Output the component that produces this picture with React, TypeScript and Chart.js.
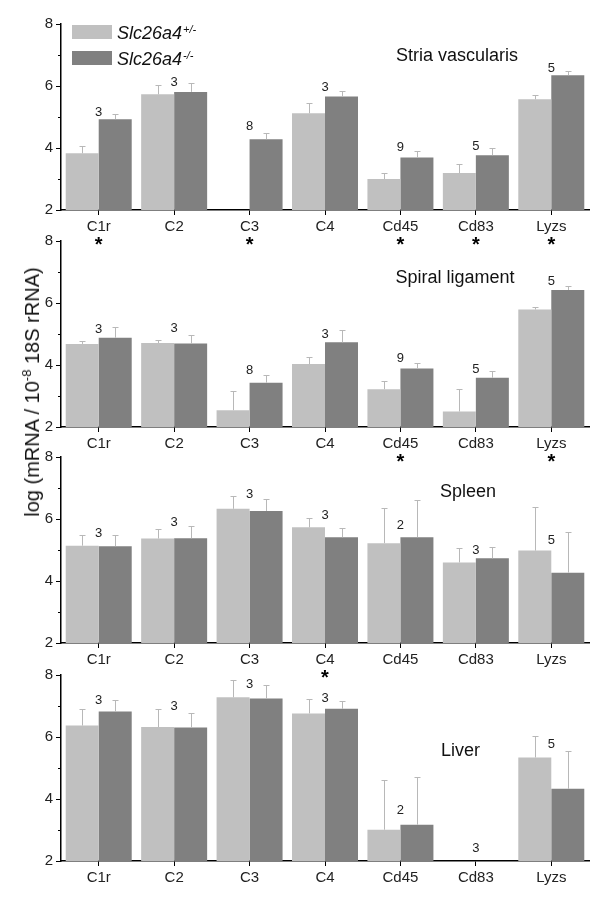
import React, { useEffect, useRef } from 'react';
import { Chart, registerables } from 'chart.js';

Chart.register(...registerables);

// ---------- DATA ----------
const categories = ['C1r', 'C2', 'C3', 'C4', 'Cd45', 'Cd83', 'Lyzs'];
const yMajorTicks = [2, 4, 6, 8];
const yMinorTicks = [3, 5, 7];
const seriesNames = ['Slc26a4', 'Slc26a4'];
const seriesSup = ['+/-', '-/-'];

// Stria vascularis
const striaHet = [3.83, 5.73, null, 5.12, 3.0, 3.19, 5.57];
const striaHetErr = [0.23, 0.29, null, 0.32, 0.2, 0.28, 0.13];
const striaKo = [4.93, 5.81, 4.28, 5.66, 3.69, 3.77, 6.35];
const striaKoErr = [0.16, 0.28, 0.21, 0.18, 0.22, 0.22, 0.13];
const striaN = ['3', '3', '8', '3', '9', '5', '5'];
const striaNAt = [5.16, 6.1, 4.69, 5.94, 4.03, 4.06, 6.58];
const striaSig = [true, false, true, false, true, true, true];

// Spiral ligament
const spiralHet = [4.68, 4.71, 2.54, 4.03, 3.22, 2.5, 5.79];
const spiralHetErr = [0.11, 0.11, 0.62, 0.24, 0.25, 0.74, 0.09];
const spiralKo = [4.88, 4.69, 3.43, 4.73, 3.89, 3.59, 6.42];
const spiralKoErr = [0.34, 0.29, 0.26, 0.39, 0.19, 0.23, 0.14];
const spiralN = ['3', '3', '8', '3', '9', '5', '5'];
const spiralNAt = [5.15, 5.19, 3.83, 4.99, 4.22, 3.87, 6.7];
const spiralSig = [false, false, false, false, true, false, true];

// Spleen
const spleenHet = [5.14, 5.37, 6.33, 5.73, 5.22, 4.6, 4.98];
const spleenHetErr = [0.34, 0.31, 0.4, 0.31, 1.14, 0.47, 1.41];
const spleenKo = [5.12, 5.38, 6.26, 5.41, 5.41, 4.73, 4.27];
const spleenKoErr = [0.36, 0.4, 0.39, 0.3, 1.21, 0.37, 1.32];
const spleenN = ['3', '3', '3', '3', '2', '3', '5'];
const spleenNAt = [5.52, 5.89, 6.79, 6.11, 5.79, 4.98, 5.32];
const spleenSig = [false, false, false, true, false, false, false];

// Liver
const liverHet = [6.37, 6.32, 7.28, 6.76, 3.01, null, 5.34];
const liverHetErr = [0.54, 0.59, 0.56, 0.47, 1.61, null, 0.69];
const liverKo = [6.82, 6.31, 7.24, 6.91, 3.17, null, 4.33];
const liverKoErr = [0.36, 0.47, 0.44, 0.26, 1.55, null, 1.21];
const liverN = ['3', '3', '3', '3', '2', '3', '5'];
const liverNAt = [7.19, 6.99, 7.7, 7.24, 3.63, 2.39, 5.75];
const liverSig = [false, false, false, false, false, false, false];

// ---------- LAYOUT / STYLE ----------
const FONT = "'Liberation Sans', Arial, sans-serif";
const PAD_TOP = 16;
const PLOT_H = 186;
const X_H = 60;
const Y_W = 61;
const PAD_R = 11;
const LIGHT = '#c0c0c0';
const DARK = '#808080';
const ERR = '#b8b8b8';

type PanelCfg = {
  title: string;
  het: (number | null)[];
  hetErr: (number | null)[];
  ko: (number | null)[];
  koErr: (number | null)[];
  n: string[];
  nAt: number[];
  sig: boolean[];
  top: number;
  titleX: number;
  titleY: number;
  legend: boolean;
};

const panels: PanelCfg[] = [
  { title: 'Stria vascularis', het: striaHet, hetErr: striaHetErr, ko: striaKo, koErr: striaKoErr, n: striaN, nAt: striaNAt, sig: striaSig, top: 24, titleX: 457, titleY: 61, legend: true },
  { title: 'Spiral ligament', het: spiralHet, hetErr: spiralHetErr, ko: spiralKo, koErr: spiralKoErr, n: spiralN, nAt: spiralNAt, sig: spiralSig, top: 241, titleX: 455, titleY: 282.5, legend: false },
  { title: 'Spleen', het: spleenHet, hetErr: spleenHetErr, ko: spleenKo, koErr: spleenKoErr, n: spleenN, nAt: spleenNAt, sig: spleenSig, top: 457, titleX: 468, titleY: 497, legend: false },
  { title: 'Liver', het: liverHet, hetErr: liverHetErr, ko: liverKo, koErr: liverKoErr, n: liverN, nAt: liverNAt, sig: liverSig, top: 675, titleX: 460.5, titleY: 755.5, legend: false },
];

function Panel({ cfg }: { cfg: PanelCfg }) {
  const ref = useRef<HTMLCanvasElement>(null);
  const canvasTop = cfg.top - PAD_TOP;
  const height = PAD_TOP + PLOT_H + X_H;

  useEffect(() => {
    if (!ref.current) return;
    const loc = (pageY: number) => pageY - canvasTop;
    const errs = [cfg.hetErr, cfg.koErr];
    const vals = [cfg.het, cfg.ko];

    const overlay = {
      id: 'overlay',
      afterDatasetsDraw(chart: any) {
        const ctx = chart.ctx as CanvasRenderingContext2D;
        const xs = chart.scales.x;
        const ys = chart.scales.y;
        ctx.save();
        // minor y ticks
        ctx.strokeStyle = '#000';
        ctx.lineWidth = 1;
        yMinorTicks.forEach((t) => {
          const py = Math.round(ys.getPixelForValue(t)) + 0.5;
          ctx.beginPath();
          ctx.moveTo(ys.right - 3, py);
          ctx.lineTo(ys.right, py);
          ctx.stroke();
        });
        // error bars
        ctx.strokeStyle = ERR;
        ctx.lineWidth = 1;
        [0, 1].forEach((d) => {
          const meta = chart.getDatasetMeta(d);
          meta.data.forEach((el: any, i: number) => {
            const v = vals[d][i];
            const e = errs[d][i];
            if (v == null || e == null) return;
            const x = Math.round(el.x) + 0.5;
            const y0 = el.y;
            const y1 = Math.round(ys.getPixelForValue(v + e)) + 0.5;
            ctx.beginPath();
            ctx.moveTo(x, y0);
            ctx.lineTo(x, y1);
            ctx.moveTo(x - 3, y1);
            ctx.lineTo(x + 3, y1);
            ctx.stroke();
          });
        });
        // n labels
        ctx.fillStyle = '#222';
        ctx.font = `13px ${FONT}`;
        ctx.textAlign = 'center';
        ctx.textBaseline = 'middle';
        cfg.n.forEach((lab, i) => {
          ctx.fillText(lab, xs.getPixelForValue(i), ys.getPixelForValue(cfg.nAt[i]));
        });
        // significance asterisks
        ctx.fillStyle = '#000';
        ctx.font = `bold 20px ${FONT}`;
        ctx.textBaseline = 'alphabetic';
        const m = ctx.measureText('*');
        const shift = (m.actualBoundingBoxAscent - m.actualBoundingBoxDescent) / 2;
        cfg.sig.forEach((s, i) => {
          if (!s) return;
          ctx.fillText('*', xs.getPixelForValue(i), ys.bottom + 31 + shift);
        });
        // title
        ctx.fillStyle = '#111';
        ctx.font = `18px ${FONT}`;
        ctx.textAlign = 'center';
        ctx.fillText(cfg.title, cfg.titleX, loc(cfg.titleY));
        // legend
        if (cfg.legend) {
          const colors = [LIGHT, DARK];
          const rectTops = [25, 51];
          const baselines = [38.5, 65];
          colors.forEach((c, k) => {
            ctx.fillStyle = c;
            ctx.fillRect(72, loc(rectTops[k]), 40, 14);
            ctx.fillStyle = '#111';
            ctx.textAlign = 'left';
            ctx.font = `italic 18px ${FONT}`;
            ctx.fillText(seriesNames[k], 117, loc(baselines[k]));
            const w = ctx.measureText(seriesNames[k]).width;
            ctx.font = `italic 11px ${FONT}`;
            ctx.fillText(seriesSup[k], 117 + w + 1, loc(baselines[k] - 6));
          });
        }
        ctx.restore();
      },
    };

    const chart = new Chart(ref.current, {
      type: 'bar',
      data: {
        labels: categories,
        datasets: [
          { label: 'Slc26a4+/-', data: cfg.het as any, backgroundColor: LIGHT, borderWidth: 0 },
          { label: 'Slc26a4-/-', data: cfg.ko as any, backgroundColor: DARK, borderWidth: 0 },
        ],
      },
      options: {
        animation: false,
        responsive: false,
        events: [],
        layout: { padding: { top: PAD_TOP, right: PAD_R, left: 0, bottom: 0 } },
        datasets: { bar: { categoryPercentage: 0.875, barPercentage: 1 } },
        scales: {
          x: {
            type: 'category',
            afterFit: (s: any) => { s.height = X_H; },
            grid: { display: true, drawOnChartArea: false, offset: false, tickLength: 5, color: '#000', lineWidth: 1 },
            border: { display: true, color: '#000', width: 1.5 },
            ticks: { color: '#222', font: { family: FONT, size: 15 }, padding: 3, maxRotation: 0, autoSkip: false },
          },
          y: {
            min: 2,
            max: 8,
            afterFit: (s: any) => { s.width = Y_W; },
            afterBuildTicks: (s: any) => { s.ticks = yMajorTicks.map((v) => ({ value: v })); },
            grid: { display: true, drawOnChartArea: false, tickLength: 5, color: '#000', lineWidth: 1 },
            border: { display: true, color: '#000', width: 1.5 },
            ticks: { color: '#222', font: { family: FONT, size: 15 }, padding: 3 },
          },
        },
        plugins: { legend: { display: false }, tooltip: { enabled: false }, title: { display: false } },
      } as any,
      plugins: [overlay],
    });
    return () => chart.destroy();
  }, []);

  return (
    <canvas
      ref={ref}
      width={600}
      height={height}
      style={{ position: 'absolute', left: 0, top: canvasTop, width: 600, height, display: 'block' }}
    />
  );
}

export default function App() {
  return (
    <div style={{ position: 'fixed', left: 0, top: 0, width: 600, height: 900, background: '#fff', overflow: 'hidden' }}>
      {panels.map((p, i) => (
        <Panel key={i} cfg={p} />
      ))}
      <div style={{ position: 'absolute', left: 32, top: 392, width: 0, height: 0 }}>
        <div
          style={{
            position: 'absolute',
            left: 0,
            top: 0,
            transform: 'translate(-50%, -50%) rotate(-90deg)',
            fontFamily: FONT,
            fontSize: 20,
            color: '#111',
            whiteSpace: 'nowrap',
            lineHeight: '22px',
          }}
        >
          log (mRNA / 10<sup style={{ fontSize: 13, verticalAlign: 'top', position: 'relative', top: -5 }}>-8</sup> 18S rRNA)
        </div>
      </div>
    </div>
  );
}
